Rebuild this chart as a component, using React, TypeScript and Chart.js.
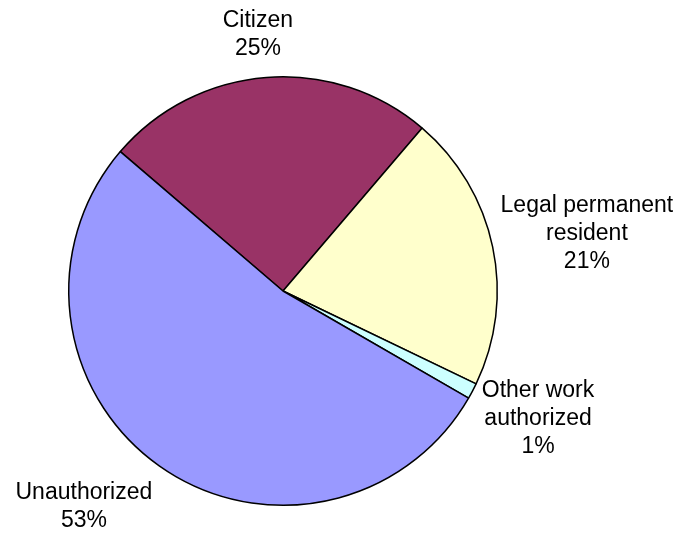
import React, { useEffect, useRef } from "react";
import { Chart, registerables } from "chart.js";

Chart.register(...registerables);

const categories = ["Citizen", "Legal permanent resident", "Other work authorized", "Unauthorized"];
const labelLines = [["Citizen"], ["Legal permanent", "resident"], ["Other work", "authorized"], ["Unauthorized"]];
const values = [25, 20.9, 1.2, 53];
const colors = ["#993366", "#FFFFCC", "#CCFFFF", "#9999FF"];
const nudges = [[-5, -5], [0, -2], [7, 3], [-30, 10]];

const FONT_SIZE = 23;
const LINE_H = 28;

const labelPlugin = {
  id: "outerLabels",
  afterDraw(chart: any) {
    const ctx = chart.ctx;
    const meta = chart.getDatasetMeta(0);
    const total = values.reduce((a, b) => a + b, 0);
    ctx.save();
    ctx.font = `${FONT_SIZE}px "Liberation Sans", Arial, sans-serif`;
    ctx.fillStyle = "#000";
    ctx.textAlign = "center";
    ctx.textBaseline = "middle";
    meta.data.forEach((arc: any, i: number) => {
      const p = arc.getProps(["x", "y", "startAngle", "endAngle", "outerRadius"], true);
      const mid = (p.startAngle + p.endAngle) / 2;
      const dx = Math.cos(mid);
      const dy = Math.sin(mid);
      const lines = [...labelLines[i], Math.round((values[i] / total) * 100) + "%"];
      const w = Math.max(...lines.map((l) => ctx.measureText(l).width));
      const h = lines.length * LINE_H;
      const r = p.outerRadius + 10;
      const cx = p.x + dx * r + dx * (w / 2) + nudges[i][0];
      const cy = p.y + dy * r + dy * (h / 2) + nudges[i][1];
      lines.forEach((l, j) => {
        ctx.fillText(l, cx, cy - h / 2 + LINE_H * (j + 0.5));
      });
    });
    ctx.restore();
  },
};

export default function App() {
  const ref = useRef<HTMLCanvasElement>(null);
  useEffect(() => {
    const chart = new Chart(ref.current!, {
      type: "pie",
      data: {
        labels: categories,
        datasets: [
          {
            data: values,
            backgroundColor: colors,
            borderColor: "#000000",
            borderWidth: 1.5,
          },
        ],
      },
      options: {
        animation: false,
        responsive: false,
        rotation: -49.4,
        layout: { padding: { left: 68, right: 181, top: 76, bottom: 27 } },
        plugins: { legend: { display: false }, tooltip: { enabled: false } },
      },
      plugins: [labelPlugin],
    });
    return () => chart.destroy();
  }, []);
  return (
    <div style={{ position: "fixed", left: 0, top: 0, width: 679, height: 533, background: "#fff" }}>
      <canvas ref={ref} width={679} height={533} style={{ display: "block" }} />
    </div>
  );
}
